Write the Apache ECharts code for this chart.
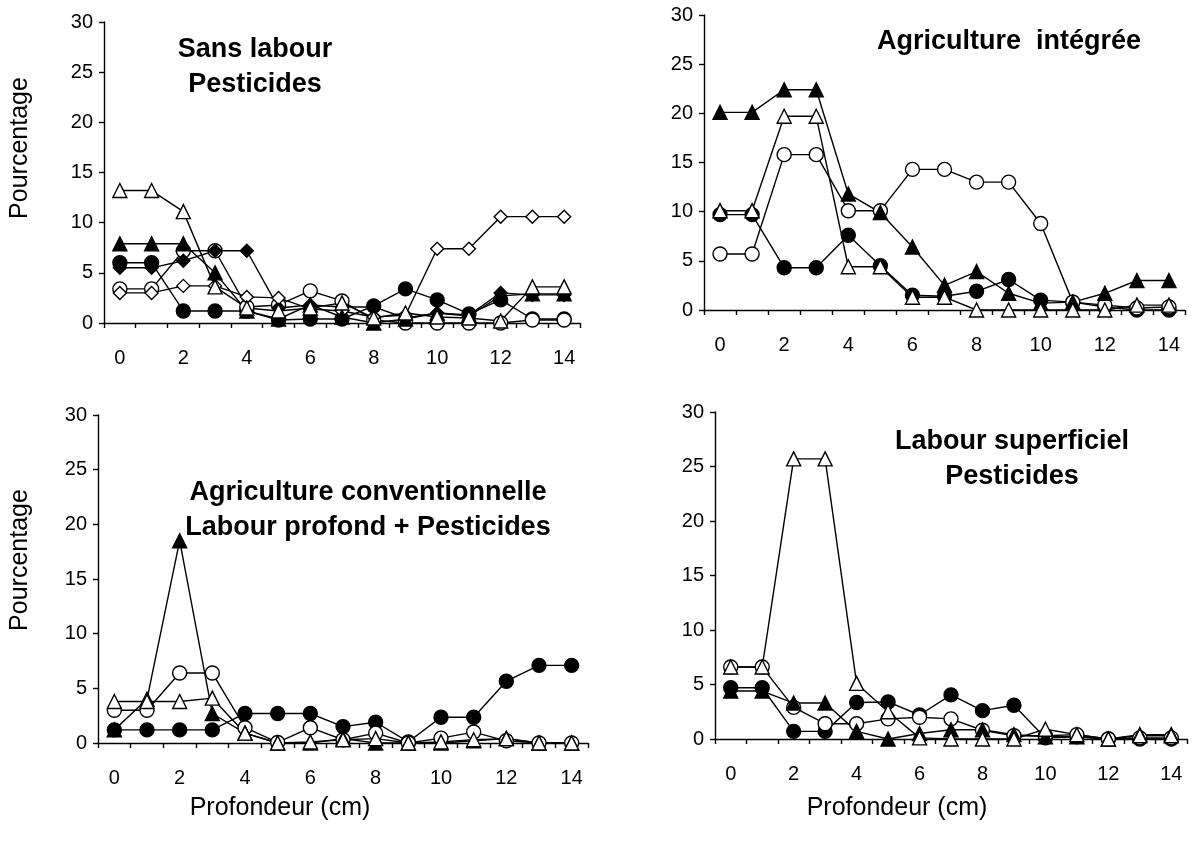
<!DOCTYPE html>
<html>
<head>
<meta charset="utf-8">
<script src="https://cdn.jsdelivr.net/npm/echarts@6/dist/echarts.min.js"></script>
<style>
  html, body { margin: 0; padding: 0; background: #fff; }
  #chart { width: 1192px; height: 859px; }
</style>
</head>
<body>
<div id="chart"></div>
<script>
// depth categories (cm)
const depths = ['0', '1', '2', '3', '4', '5', '6', '7', '8', '9', '10', '11', '12', '13', '14'];

// Sans labour - Pesticides
const slOpenTri   = [13.2, 13.2, 11.1, 3.6, 1.5, 1.2, 1.5, 2.0, 0.5, 1.0, 0.6, 0.5, 0.2, 3.6, 3.6];
const slFilledTri = [7.9, 7.9, 7.9, 5.0, 1.2, 0.4, 1.8, 0.6, 0, 0.4, 1.0, 0.7, 2.7, 2.9, 2.9];
const slOpenCirc  = [3.4, 3.4, 7.2, 7.2, 1.6, 1.8, 3.2, 2.2, 0.3, 0, 0, 0, 0, 0.3, 0.3];
const slFilledCirc = [6.0, 6.0, 1.2, 1.2, 1.2, 0.3, 0.4, 0.4, 1.7, 3.4, 2.3, 0.9, 2.3, 0.4, 0.4];
const slOpenDia   = [3.0, 3.0, 3.7, 3.7, 2.6, 2.5, 1.4, 1.2, 0.6, 0.8, 7.4, 7.4, 10.6, 10.6, 10.6];
const slFilledDia = [5.5, 5.5, 6.2, 7.2, 7.2, 1.5, 1.8, 1.6, 1.6, 0.5, 1.0, 0.8, 3.0, 2.8, 2.8];

// Agriculture intégrée
const aiFilledTri = [20.1, 20.1, 22.4, 22.4, 11.8, 9.9, 6.4, 2.5, 3.9, 1.7, 0.7, 0.8, 1.7, 3.0, 3.0];
const aiOpenTri   = [10.1, 10.1, 19.7, 19.7, 4.4, 4.4, 1.3, 1.3, 0, 0, 0, 0, 0, 0.5, 0.5];
const aiOpenCirc  = [5.7, 5.7, 15.8, 15.8, 10.1, 10.1, 14.3, 14.3, 13.0, 13.0, 8.8, 0.8, 0.5, 0.2, 0.3];
const aiFilledCirc = [9.7, 9.7, 4.3, 4.3, 7.6, 4.5, 1.5, 1.4, 1.9, 3.1, 1.0, 0.8, 0.3, 0, 0];

// Agriculture conventionnelle - Labour profond + Pesticides
const acFilledTri = [1.2, 4.0, 18.5, 2.7, 0.9, 0, 0, 0.4, 0, 0, 0, 0.2, 0.4, 0, 0];
const acOpenTri   = [3.8, 3.8, 3.8, 4.1, 0.9, 0, 0.1, 0.3, 0.4, 0, 0.1, 0.3, 0.4, 0, 0];
const acOpenCirc  = [3.0, 3.0, 6.4, 6.4, 1.4, 0.05, 1.4, 0.3, 0.9, 0, 0.45, 1.0, 0.2, 0, 0];
const acFilledCirc = [1.2, 1.2, 1.2, 1.2, 2.7, 2.7, 2.7, 1.5, 1.9, 0.1, 2.35, 2.35, 5.65, 7.1, 7.1];

// Labour superficiel - Pesticides
const lsFilledTri = [4.4, 4.4, 3.3, 3.3, 0.7, 0, 0.5, 0.85, 0.85, 0.4, 0.2, 0.2, 0, 0.4, 0.4];
const lsOpenTri   = [6.6, 6.6, 25.7, 25.7, 5.1, 2.5, 0.1, 0, 0, 0, 0.9, 0.4, 0, 0.3, 0.3];
const lsOpenCirc  = [6.6, 6.6, 2.9, 1.4, 1.4, 1.85, 2.0, 1.85, 0.8, 0.3, 0.3, 0.4, 0, 0.1, 0.1];
const lsFilledCirc = [4.7, 4.7, 0.7, 0.7, 3.35, 3.4, 2.2, 4.05, 2.6, 3.1, 0.1, 0.2, 0, 0, 0];

const yTicks = { min: 0, max: 30, interval: 5 };

const FONT = '"Liberation Sans", Arial, sans-serif';

const grids = [
  { left: 104, top: 22, width: 476, height: 301 },
  { left: 704, top: 15, width: 481, height: 295 },
  { left: 98, top: 415, width: 490, height: 328 },
  { left: 715, top: 412, width: 472, height: 327 }
];

function line(data, gridIndex, shape, filled) {
  const size = shape === 'diamond' ? 13 : 14;
  return {
    type: 'line',
    xAxisIndex: gridIndex,
    yAxisIndex: gridIndex,
    data: data,
    symbol: shape,
    symbolSize: size,
    showAllSymbol: true,
    lineStyle: { color: '#000', width: 1.4 },
    itemStyle: {
      color: filled ? '#000' : '#fff',
      borderColor: '#000',
      borderWidth: 1.4
    },
    emphasis: { disabled: true }
  };
}

const axisLineStyle = { color: '#000', width: 1.4 };

const xAxes = grids.map((g, i) => ({
  type: 'category',
  gridIndex: i,
  data: depths,
  boundaryGap: true,
  axisLine: { show: true, lineStyle: axisLineStyle },
  axisTick: { show: true, interval: 0, length: 5, lineStyle: axisLineStyle },
  axisLabel: { interval: 1, color: '#000', fontSize: 20, fontFamily: FONT, margin: 25 },
  splitLine: { show: false }
}));

const yAxes = grids.map((g, i) => ({
  type: 'value',
  gridIndex: i,
  min: yTicks.min,
  max: yTicks.max,
  interval: yTicks.interval,
  axisLine: { show: true, lineStyle: axisLineStyle },
  axisTick: { show: true, length: 5, lineStyle: axisLineStyle },
  axisLabel: { color: '#000', fontSize: 20, fontFamily: FONT, margin: 11 },
  splitLine: { show: false }
}));

const series = [
  line(slFilledCirc, 0, 'circle', true),
  line(slOpenCirc, 0, 'circle', false),
  line(slFilledDia, 0, 'diamond', true),
  line(slOpenDia, 0, 'diamond', false),
  line(slFilledTri, 0, 'triangle', true),
  line(slOpenTri, 0, 'triangle', false),

  line(aiFilledCirc, 1, 'circle', true),
  line(aiOpenCirc, 1, 'circle', false),
  line(aiFilledTri, 1, 'triangle', true),
  line(aiOpenTri, 1, 'triangle', false),

  line(acFilledCirc, 2, 'circle', true),
  line(acOpenCirc, 2, 'circle', false),
  line(acFilledTri, 2, 'triangle', true),
  line(acOpenTri, 2, 'triangle', false),

  line(lsFilledCirc, 3, 'circle', true),
  line(lsOpenCirc, 3, 'circle', false),
  line(lsFilledTri, 3, 'triangle', true),
  line(lsOpenTri, 3, 'triangle', false)
];

function label(text, x, y, opts) {
  return {
    type: 'text',
    x: x,
    y: y,
    rotation: opts.rotate ? Math.PI / 2 : 0,
    z: 100,
    style: {
      text: text,
      fill: '#000',
      font: (opts.bold ? 'bold ' : '') + opts.size + 'px ' + FONT,
      textAlign: 'center',
      textVerticalAlign: 'middle',
      lineHeight: 35
    }
  };
}

const chart = echarts.init(document.getElementById('chart'), null, { renderer: 'canvas' });
chart.setOption({
  animation: false,
  backgroundColor: '#fff',
  grid: grids,
  xAxis: xAxes,
  yAxis: yAxes,
  series: series,
  graphic: [
    label('Sans labour\nPesticides', 255, 67, { bold: true, size: 27 }),
    label('Agriculture  intégrée', 1009, 42, { bold: true, size: 27 }),
    label('Agriculture conventionnelle\nLabour profond + Pesticides', 368, 510, { bold: true, size: 27 }),
    label('Labour superficiel\nPesticides', 1012, 459, { bold: true, size: 27 }),
    label('Pourcentage', 20, 148, { rotate: true, size: 25 }),
    label('Pourcentage', 20, 560, { rotate: true, size: 25 }),
    label('Profondeur (cm)', 280, 808, { size: 25 }),
    label('Profondeur (cm)', 897, 808, { size: 25 })
  ]
});
</script>
</body>
</html>
